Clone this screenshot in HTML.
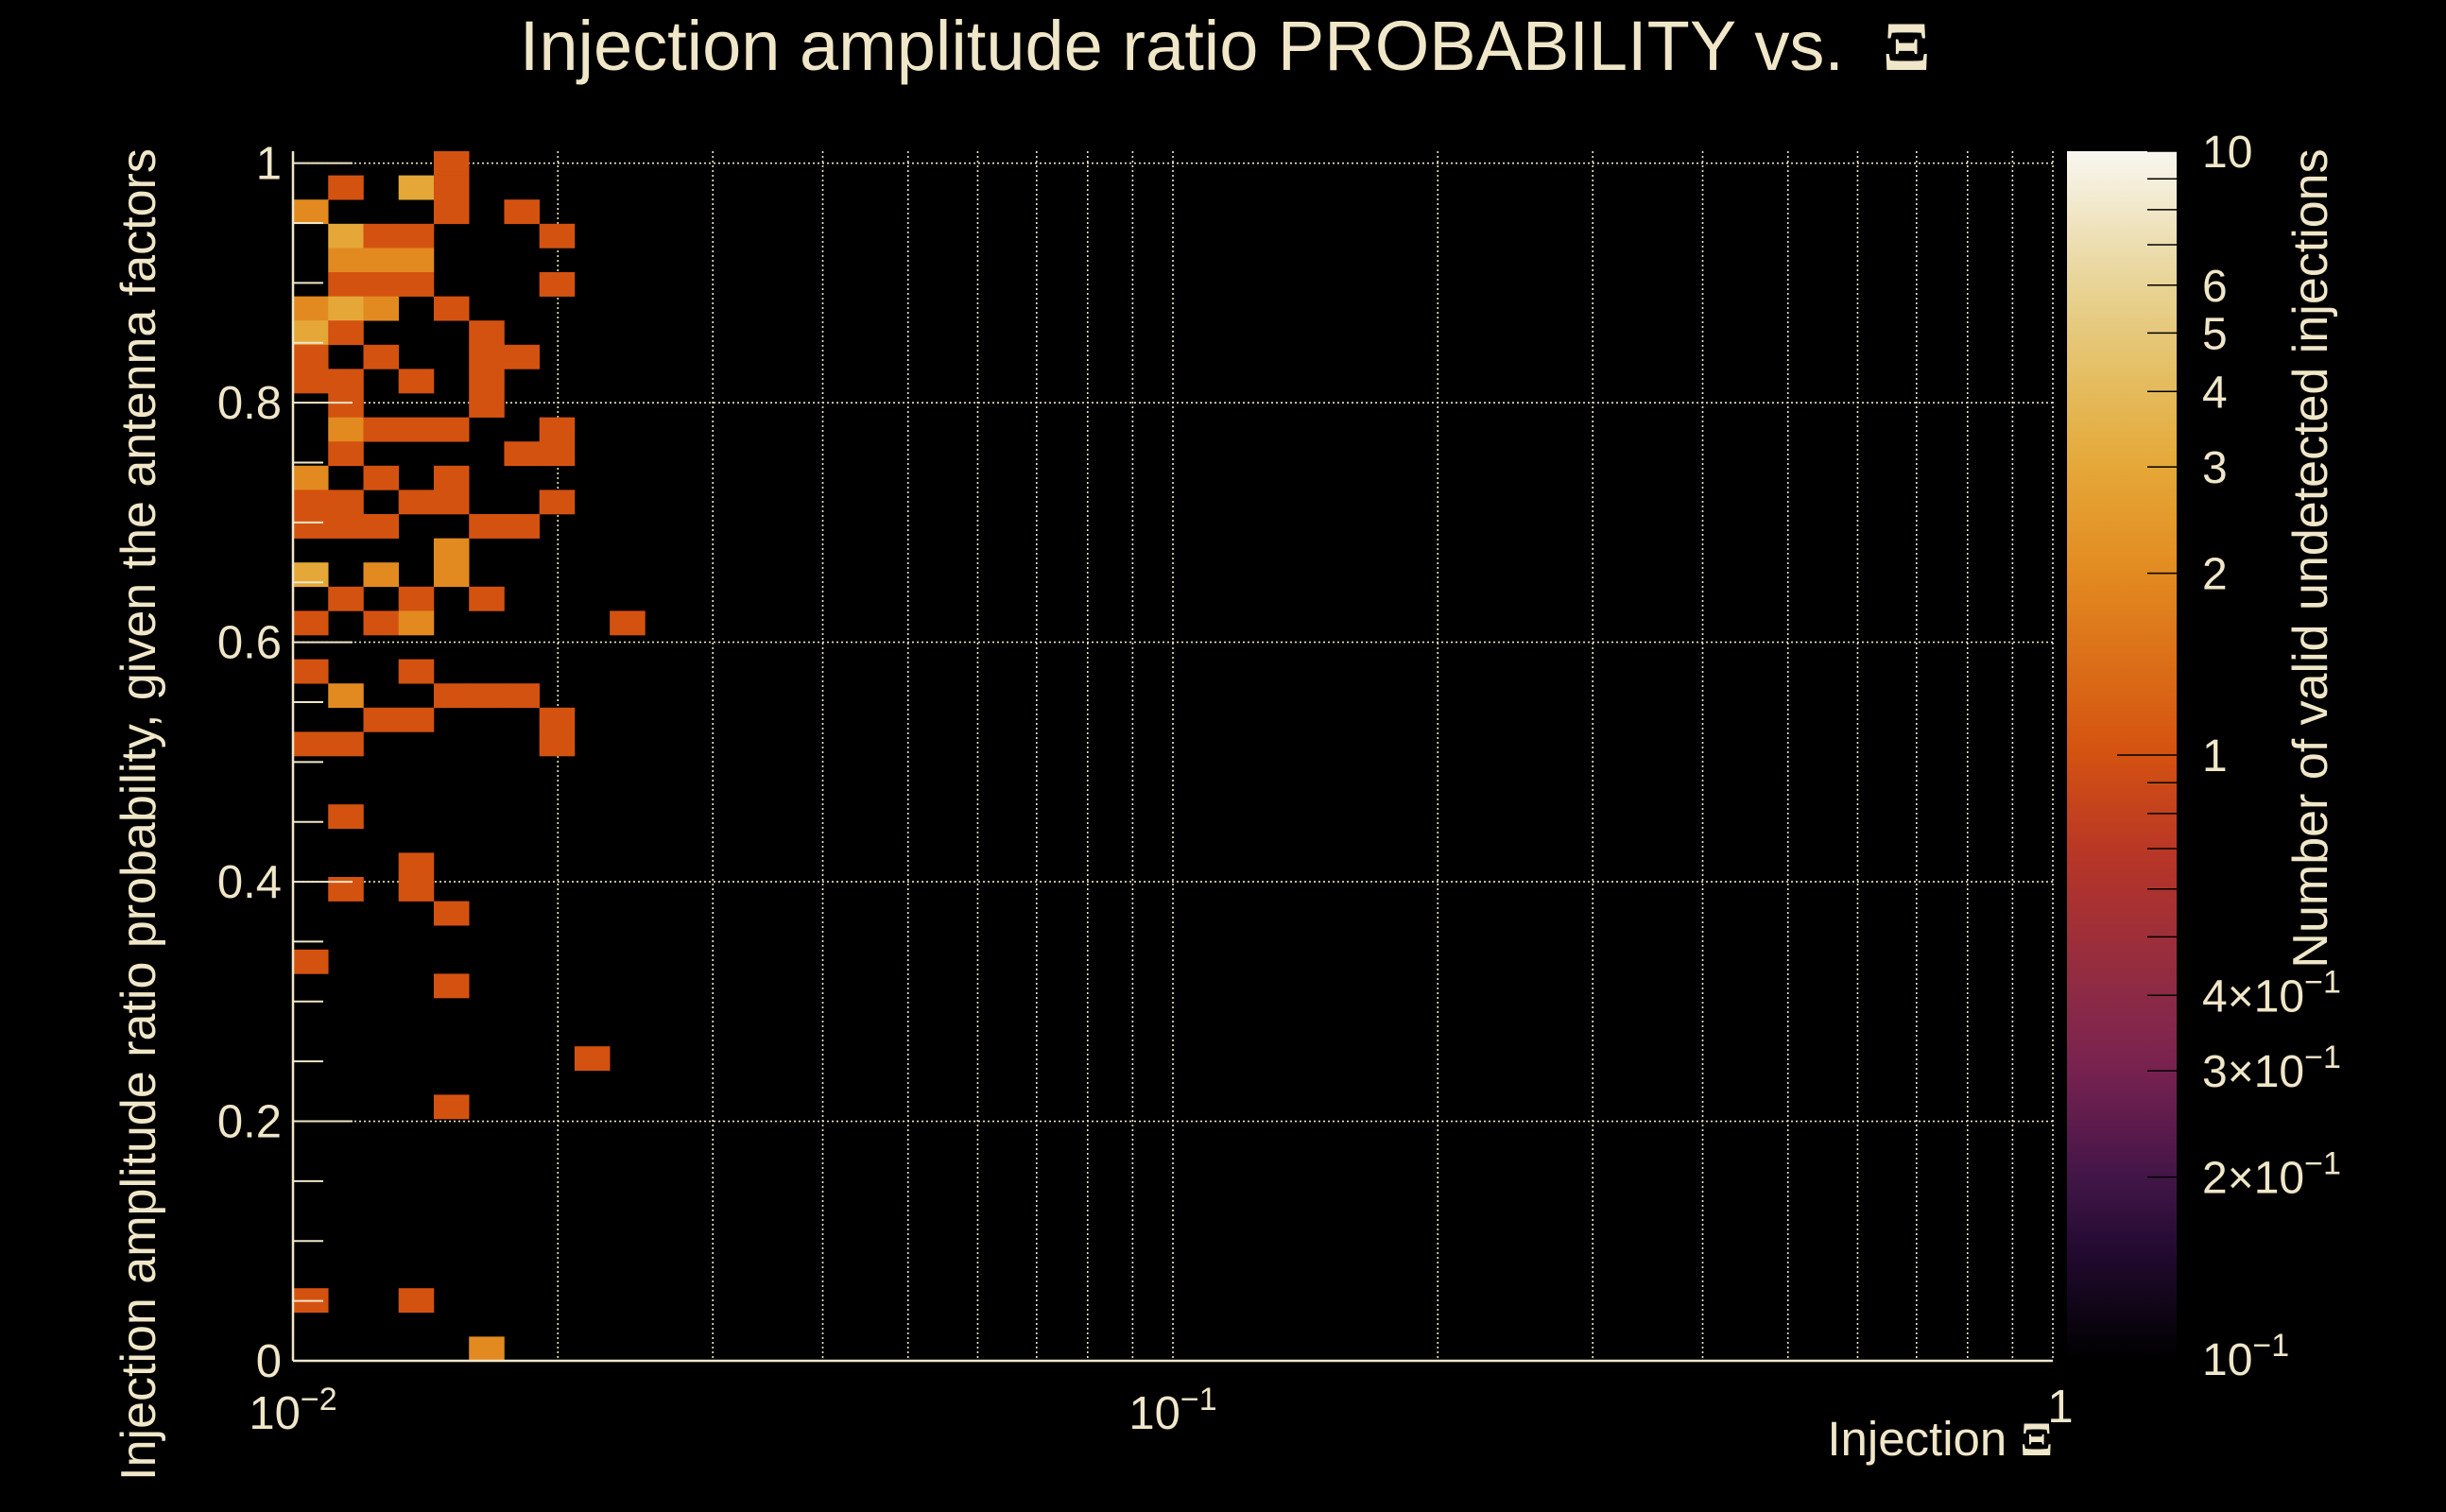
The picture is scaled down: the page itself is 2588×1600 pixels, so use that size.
<!DOCTYPE html>
<html><head><meta charset="utf-8"><style>
html,body{margin:0;padding:0;background:#000;}
svg{display:block;font-family:"Liberation Sans",sans-serif;}
</style></head><body>
<svg id="chart" width="2588" height="1600" viewBox="0 0 2588 1600" xmlns="http://www.w3.org/2000/svg">
<rect x="0" y="0" width="2588" height="1600" fill="#000"/>
<text x="1296" y="74" fill="#F0E6C8" font-size="74" text-anchor="middle" xml:space="preserve">Injection amplitude ratio PROBABILITY vs.  <tspan font-family="Liberation Serif" font-weight="bold">Ξ</tspan></text>
<g id="grid"></g>
<g id="cells"></g>
<g id="axes"></g>
<g id="cbar"></g>
<text transform="translate(164,862) rotate(-90)" fill="#F0E6C8" font-size="52" text-anchor="middle">Injection amplitude ratio probability, given the antenna factors</text>
<text x="2172" y="1540" fill="#F0E6C8" font-size="51" text-anchor="end">Injection <tspan font-family="Liberation Serif" font-weight="bold">Ξ</tspan></text>
<text transform="translate(2462,591) rotate(-90)" fill="#F0E6C8" font-size="52" text-anchor="middle">Number of valid undetected injections</text>
</svg>
<script>
// Binning: 50 log bins in x over [0.01,1], 50 bins in y over [0,1.01]
const xBinCount = 50, yBinCount = 50;
const xDomain = [0.01, 1];
const yDomain = [0, 1.01];
const cellXBin = [4, 1,3,4, 0,4,6, 1,2,3,7, 1,2,3, 1,2,3,7, 0,1,2,4, 0,1,5, 0,2,5,6, 0,1,3,5, 1,5, 1,2,3,4,7, 1,6,7, 0,2,4, 0,1,3,4,7, 0,1,2,5,6, 4, 0,2,4, 1,3,5, 0,2,3,9, 0,3, 1,4,5,6, 2,3,7, 0,1,7, 1, 3, 1,3, 4, 0, 4, 8, 4, 0,3, 5];
const cellYBin = [49, 48,48,48, 47,47,47, 46,46,46,46, 45,45,45, 44,44,44,44, 43,43,43,43, 42,42,42, 41,41,41,41, 40,40,40,40, 39,39, 38,38,38,38,38, 37,37,37, 36,36,36, 35,35,35,35,35, 34,34,34,34,34, 33, 32,32,32, 31,31,31, 30,30,30,30, 28,28, 27,27,27,27, 26,26,26, 25,25,25, 22, 20, 19,19, 18, 16, 15, 12, 10, 2,2, 0];
const cellCount = [1, 1,3,1, 2,1,1, 3,1,1,1, 2,2,2, 1,1,1,1, 2,3,2,1, 3,1,1, 1,1,1,1, 1,1,1,1, 1,1, 2,1,1,1,1, 1,1,1, 2,1,1, 1,1,1,1,1, 1,1,1,1,1, 2, 3,2,2, 1,1,1, 1,1,2,1, 1,1, 2,1,1,1, 1,1,1, 1,1,1, 1, 1, 1,1, 1, 1, 1, 1, 1, 1,1, 2];
const yTickValues = [0, 0.2, 0.4, 0.6, 0.8, 1];
const yTickLabels = ["0", "0.2", "0.4", "0.6", "0.8", "1"];
const xDecades = [0.01, 0.1, 1];
const xDecadeExp = ["\u22122", "\u22121", ""];
const zDomain = [0.1, 10];
const zTickValues = [10, 6, 5, 4, 3, 2, 1, 0.4, 0.3, 0.2, 0.1];
const zTickMant = ["10", "6", "5", "4", "3", "2", "1", "4\u00d710", "3\u00d710", "2\u00d710", "10"];
const zTickExp = ["", "", "", "", "", "", "", "\u22121", "\u22121", "\u22121", "\u22121"];

const NS = "http://www.w3.org/2000/svg";
const PL = 310, PR = 2172, PT = 160, PB = 1440;
const CT = 160, CB = 1438, CL = 2187, CR = 2303;
const FG = "#F0E6C8";
function xScale(v){ return PL + (Math.log10(v) - Math.log10(xDomain[0])) / (Math.log10(xDomain[1]) - Math.log10(xDomain[0])) * (PR - PL); }
function yScale(v){ return PB - (v - yDomain[0]) / (yDomain[1] - yDomain[0]) * (PB - PT); }
function zScale(v){ return CB - (Math.log10(v) - Math.log10(zDomain[0])) / (Math.log10(zDomain[1]) - Math.log10(zDomain[0])) * (CB - CT); }
function xEdge(i){ return Math.pow(10, Math.log10(xDomain[0]) + i * (Math.log10(xDomain[1]) - Math.log10(xDomain[0])) / xBinCount); }
function yEdge(i){ return yDomain[0] + i * (yDomain[1] - yDomain[0]) / yBinCount; }
const cmapStops = [[0,[0,0,0]],[0.088,[34,10,48]],[0.15,[66,22,72]],[0.24,[120,34,80]],[0.3,[140,42,70]],[0.42,[184,54,38]],[0.5,[212,82,16]],[0.65,[226,138,32]],[0.74,[229,168,56]],[0.8,[228,186,90]],[0.89,[232,212,150]],[1,[248,246,240]]];
function cmap(v){
  let t = (Math.log10(v) - Math.log10(zDomain[0])) / (Math.log10(zDomain[1]) - Math.log10(zDomain[0]));
  t = Math.max(0, Math.min(1, t));
  for (let i = 1; i < cmapStops.length; i++) {
    if (t <= cmapStops[i][0]) {
      const a = cmapStops[i-1], b = cmapStops[i], f = (t - a[0]) / (b[0] - a[0]);
      const c = a[1].map((x, k) => Math.round(x + (b[1][k] - x) * f));
      return "rgb(" + c.join(",") + ")";
    }
  }
  return "rgb(248,246,240)";
}
function mk(tag, attrs, parent){ const e = document.createElementNS(NS, tag); for (const k in attrs) e.setAttribute(k, attrs[k]); parent.appendChild(e); return e; }

const grid = document.getElementById("grid");
for (let d = 0; d < xDecades.length - 1; d++) {
  for (let m = 1; m <= 9; m++) {
    const v = xDecades[d] * m;
    if (m === 1 && d === 0) continue;
    const g = mk("line", {x1: xScale(v), x2: xScale(v), y1: PT, y2: PB, stroke: FG, "stroke-width": 1.6, "stroke-dasharray": "2 3"}, grid);
    
    
  }
}
const gr = mk("line", {x1: PR, x2: PR, y1: PT, y2: PB, stroke: FG, "stroke-width": 1.6, "stroke-dasharray": "2 3"}, grid);


yTickValues.forEach(v => {
  if (v === 0) return;
  const g = mk("line", {x1: PL, x2: PR, y1: yScale(v), y2: yScale(v), stroke: FG, "stroke-width": 1.6, "stroke-dasharray": "2 3"}, grid);
  
  
});

const cells = document.getElementById("cells");
for (let i = 0; i < cellCount.length; i++) {
  const x0 = xScale(xEdge(cellXBin[i])), x1 = xScale(xEdge(cellXBin[i] + 1));
  const y0 = yScale(yEdge(cellYBin[i] + 1)), y1 = yScale(yEdge(cellYBin[i]));
  const r = mk("rect", {x: x0, y: y0, width: x1 - x0 + 0.3, height: y1 - y0 + 0.3, fill: cmap(cellCount[i])}, cells);
  
  
}

const axes = document.getElementById("axes");
const yl = mk("line", {x1: PL, x2: PL, y1: PT, y2: PB, stroke: FG, "stroke-width": 2.5}, axes);


const xl = mk("line", {x1: PL, x2: PR, y1: PB, y2: PB, stroke: FG, "stroke-width": 2.5}, axes);


for (let k = 0; k <= 20; k++) {
  const v = k * 0.05;
  const major = (k % 4 === 0);
  const t = mk("line", {x1: PL, x2: PL + (major ? 63 : 32), y1: yScale(v), y2: yScale(v), stroke: FG, "stroke-width": 2}, axes);
  
  
}
yTickValues.forEach((v, i) => {
  const t = mk("text", {x: PL - 12, y: yScale(v) + 17, fill: FG, "font-size": 49, "text-anchor": "end"}, axes);
  t.textContent = yTickLabels[i];
  
  
});
xDecades.forEach((v, i) => {
  const t = mk("text", {x: xScale(v) + (i === 2 ? 8 : 0), y: 1512, fill: FG, "font-size": 49, "text-anchor": "middle"}, axes);
  if (xDecadeExp[i]) {
    t.textContent = "10";
    const s = mk("tspan", {dy: -20, "font-size": 34}, t);
    s.textContent = xDecadeExp[i];
  } else { t.textContent = "1"; t.setAttribute("y", 1505); }
  
  
});

const cbar = document.getElementById("cbar");
const defs = mk("defs", {}, cbar);
const lg = mk("linearGradient", {id: "cg", x1: 0, y1: 1, x2: 0, y2: 0}, defs);
for (let i = 0; i <= 60; i++) {
  const z = Math.pow(10, Math.log10(zDomain[0]) + i / 60 * (Math.log10(zDomain[1]) - Math.log10(zDomain[0])));
  mk("stop", {offset: i / 60, "stop-color": cmap(z)}, lg);
}
const cr = mk("rect", {x: CL, y: CT, width: CR - CL, height: CB - CT, fill: "url(#cg)"}, cbar);


const minorZ = [];
[0.1, 1].forEach(d => { for (let m = 1; m <= 9; m++) minorZ.push(d * m); });
minorZ.push(10);
minorZ.forEach(v => {
  const major = (v === 1);
  const t = mk("line", {x1: CR - (major ? 63 : 31), x2: CR, y1: zScale(v), y2: zScale(v), stroke: "#000", "stroke-width": 1.5}, cbar);
  
  
});
zTickValues.forEach((v, i) => {
  const t = mk("text", {x: 2330, y: zScale(v) + 17, fill: FG, "font-size": 48}, cbar);
  t.textContent = zTickMant[i];
  if (zTickExp[i]) { const s = mk("tspan", {dy: -20, "font-size": 34}, t); s.textContent = zTickExp[i]; }
  
  
});
</script>
</body></html>
